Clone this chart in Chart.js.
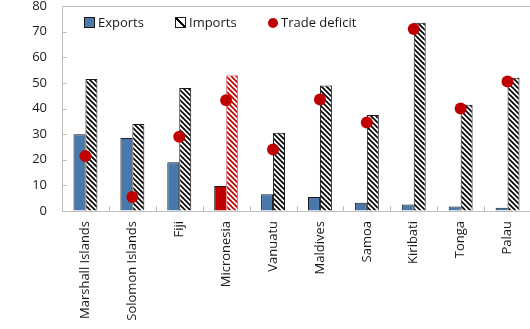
<!DOCTYPE html>
<html>
<head>
<meta charset="utf-8">
<script src="https://cdn.jsdelivr.net/npm/chart.js@4"></script>
<style>
  body { margin: 0; width: 530px; height: 329px; overflow: hidden; background: #fff; font-family: "Open Sans", sans-serif; }
  #wrap { position: relative; width: 537px; height: 329px; }
  .legend { position: absolute; top: 14px; font-size: 13px; color: #1a1a1a; line-height: 16px; white-space: nowrap; }
  .legend span.sw { display: inline-block; vertical-align: -1px; margin-right: 3px; }
</style>
</head>
<body>
<div id="wrap">
  <canvas id="myChart" width="537" height="329"></canvas>
  <div class="legend" id="lgExp" style="left:84px"><span class="sw" style="width:9px;height:9px;background:#4878ac;border:1px solid #1a1a1a"></span></div>
  <div class="legend" id="lgImp" style="left:175px"><span class="sw" style="width:9px;height:9px;border:1px solid #1a1a1a;background:linear-gradient(45deg,#fff 0 40%,#000 40% 60%,#fff 60% 100%)"></span></div>
  <div class="legend" id="lgDef" style="left:268px"><span class="sw" style="width:10px;height:10px;border-radius:50%;background:#c00000"></span></div>
</div>
<script>
// datos
const paises = ['Marshall Islands', 'Solomon Islands', 'Fiji', 'Micronesia', 'Vanuatu',
  'Maldives', 'Samoa', 'Kiribati', 'Tonga', 'Palau']
const exportaciones = [30, 28.5, 19, 9.8, 6.5, 5.5, 3.2, 2.5, 1.8, 1.3]
const importaciones = [51.5, 34, 48, 53, 30.5, 49, 37.5, 73.5, 41.5, 52]
const deficit = [21.5, 5.5, 29, 43.2, 24, 43.5, 34.5, 71, 40, 50.5]
const yTicks = [0, 10, 20, 30, 40, 50, 60, 70, 80]

const AZUL = '#4878ac'
const ROJO = '#c00000'
const GRIS = '#bfbfbf'

/**
 * patron de rayas diagonales para importaciones
 */
function hatch(color) {
  const n = 5
  const c = document.createElement('canvas')
  c.width = n
  c.height = n
  const g = c.getContext('2d')
  g.fillStyle = '#fff'
  g.fillRect(0, 0, n, n)
  g.strokeStyle = color
  g.lineWidth = 1.7
  g.beginPath()
  g.moveTo(-1, -1); g.lineTo(n + 1, n + 1)
  g.moveTo(-1, n - 1); g.lineTo(1, n + 1)
  g.moveTo(n - 1, -1); g.lineTo(n + 1, 1)
  g.stroke()
  return g.createPattern(c, 'repeat')
}

const rayaNegra = hatch('#000')
const rayaRoja = hatch(ROJO)

// ticks hacia adentro y linea superior del area
const marco = {
  id: 'marco',
  beforeDatasetsDraw(chart) {
    const { ctx, chartArea: a, scales: { x, y } } = chart
    ctx.save()
    ctx.strokeStyle = GRIS
    ctx.lineWidth = 1
    ctx.beginPath()
    ctx.moveTo(a.left, Math.round(a.top) + 0.5)
    ctx.lineTo(a.right, Math.round(a.top) + 0.5)
    yTicks.forEach(v => {
      const py = Math.round(y.getPixelForValue(v)) + 0.5
      ctx.moveTo(a.left, py)
      ctx.lineTo(a.left + 5, py)
    })
    for (let i = 0; i <= paises.length; i++) {
      const px = Math.round(x.getPixelForValue(i - 0.5)) + 0.5
      ctx.moveTo(px, a.bottom)
      ctx.lineTo(px, a.bottom - 5)
    }
    ctx.stroke()
    ctx.restore()
  }
}

Chart.defaults.font.family = '"Open Sans", sans-serif'
Chart.defaults.font.size = 13
Chart.defaults.color = '#1a1a1a'

const ctx = document.getElementById('myChart')

const chart = new Chart(ctx, {
  data: {
    labels: paises,
    datasets: [
      {
        type: 'line',
        label: 'Trade deficit',
        data: deficit,
        showLine: false,
        pointRadius: 6,
        pointHoverRadius: 6,
        pointBackgroundColor: ROJO,
        pointBorderWidth: 0,
        order: 0
      },
      {
        type: 'bar',
        label: 'Exports',
        data: exportaciones,
        backgroundColor: paises.map((p, i) => i === 3 ? ROJO : AZUL),
        borderColor: '#1a1a1a',
        borderWidth: 1,
        categoryPercentage: 0.51,
        barPercentage: 1,
        order: 1
      },
      {
        type: 'bar',
        label: 'Imports',
        data: importaciones,
        backgroundColor: paises.map((p, i) => i === 3 ? rayaRoja : rayaNegra),
        borderColor: paises.map((p, i) => i === 3 ? '#d46a6a' : '#1a1a1a'),
        borderWidth: 1,
        categoryPercentage: 0.51,
        barPercentage: 1,
        order: 1
      }
    ]
  },
  options: {
    responsive: false,
    animation: false,
    devicePixelRatio: 1,
    layout: { padding: { top: 5, right: 2, left: 0, bottom: 0 } },
    plugins: {
      legend: { display: false },
      tooltip: { enabled: false }
    },
    scales: {
      x: {
        grid: { display: true, drawOnChartArea: false, drawTicks: false },
        border: { display: true, color: GRIS },
        ticks: { minRotation: 90, maxRotation: 90, padding: 10, autoSkip: false },
        afterFit: s => { s.height = 118 }
      },
      y: {
        min: 0,
        max: 80,
        grid: { display: true, drawOnChartArea: false, drawTicks: false },
        border: { display: true, color: GRIS },
        ticks: { stepSize: 10, padding: 15 },
        afterFit: s => {
          s.width = 62
          s.paddingTop = 0
          s.paddingBottom = 0
        }
      }
    }
  },
  plugins: [marco]
})

// leyenda en html con los nombres de las series
document.getElementById('lgExp').append(chart.data.datasets[1].label)
document.getElementById('lgImp').append(chart.data.datasets[2].label)
document.getElementById('lgDef').append(chart.data.datasets[0].label)
</script>
</body>
</html>
